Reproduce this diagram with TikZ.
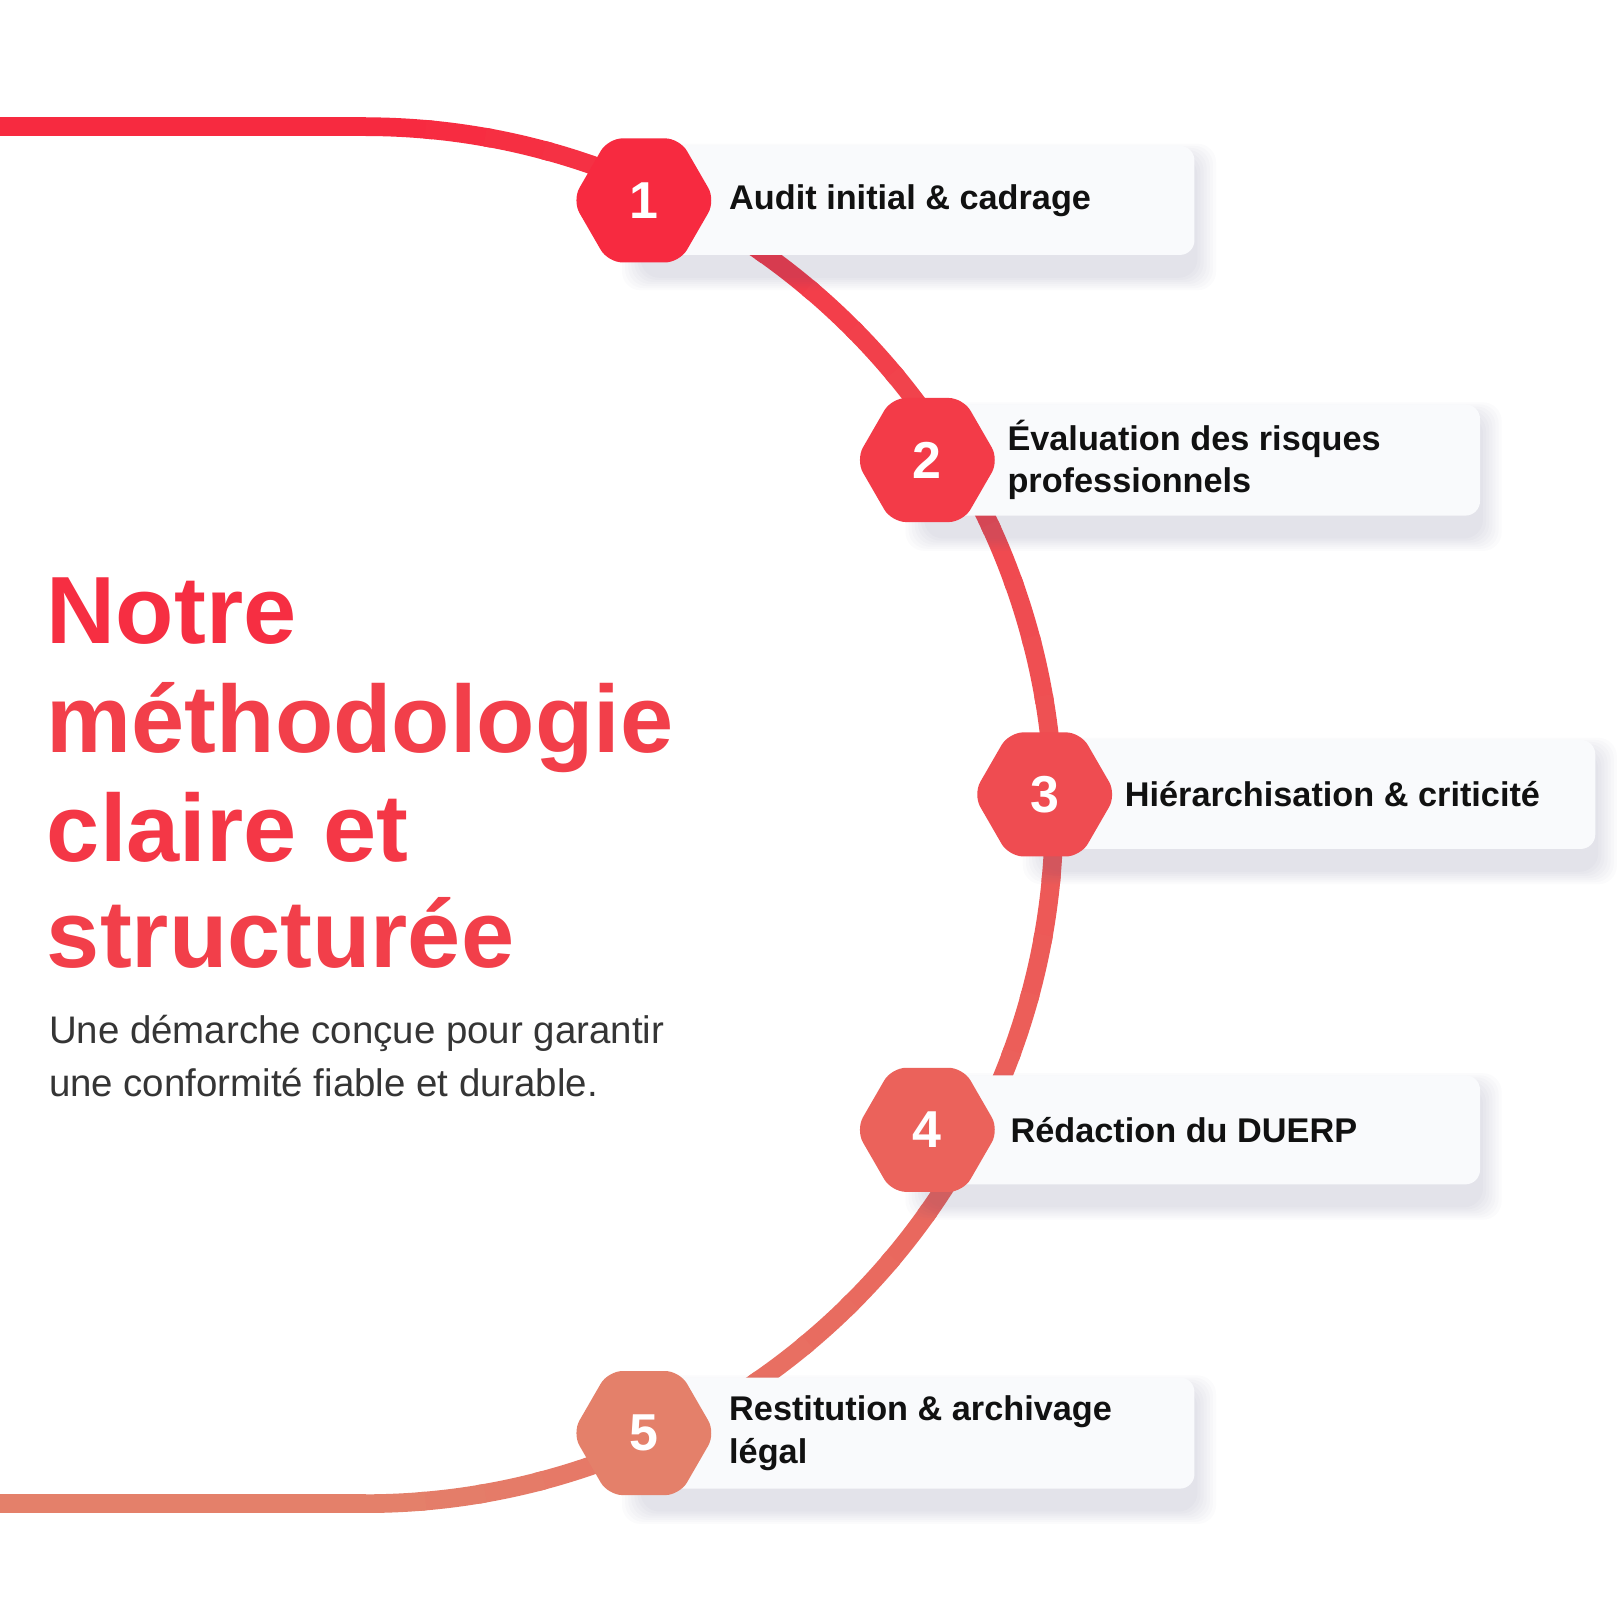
\documentclass[tikz,border=0pt]{standalone}
\usepackage{fontspec}
\setmainfont{Liberation Sans}
\usetikzlibrary{shapes.geometric,calc}
\definecolor{cA}{HTML}{F72A40}
\definecolor{cB}{HTML}{E4806A}
\definecolor{ink}{HTML}{111111}
\definecolor{cardbg}{HTML}{F9FAFC}
\definecolor{shad}{HTML}{5A5F8A}
\tikzset{
 hexa/.style={regular polygon,regular polygon sides=6,shape border rotate=0,minimum size=138pt,rounded corners=14pt,inner sep=0pt,text=white,font=\fontsize{50}{50}\selectfont\bfseries},
 steplabel/.style={anchor=west,align=left,text=ink,font=\fontsize{33}{41}\selectfont\bfseries,inner sep=0pt},
 cardbox/.style={rounded corners=14pt,fill=cardbg,draw=none,anchor=west,inner sep=0pt},
}
\newcommand{\mycard}[5]{%
 \foreach \i in {1,...,7}{\fill[shad,opacity=0.025,rounded corners=18pt] ($(#2,#3)+(-\i*3,-#5/2-20-\i*2)$) rectangle ($(#2+#4,#3)+(\i*3,#5/2-12+\i*2)$);}
 \node[cardbox,minimum width=#4 pt,minimum height=#5 pt] (#1) at (#2,#3) {};}
\begin{document}
\begin{tikzpicture}[x=1pt,y=1pt]
\useasboundingbox (0,60) rectangle (1560,1620);
\fill[white] (0,60) rectangle (1560,1620);
% path
\coordinate (ctr) at (352,835);
\coordinate (topL) at (0,1498);
\coordinate (topR) at (352,1498);
\coordinate (botL) at (0,172);
\coordinate (botR) at (352,172);
\draw[cA,line width=18pt] (topL) -- (topR);
\draw[cB,line width=18pt] (botL) -- (botR);
\foreach \k in {0,...,35}{
 \pgfmathsetmacro{\aa}{90-5*\k}
 \pgfmathsetmacro{\bb}{90-5*(\k+1)-0.6}
 \pgfmathsetmacro{\pc}{\k*100/35}
 \draw[cB!\pc!cA,line width=18pt] ($(ctr)+(\aa:663)$) arc[start angle=\aa,end angle=\bb,radius=663];
}
% cards
\mycard{c1}{620}{1427}{530}{105}
\mycard{c2}{893}{1177}{532}{107}
\mycard{c3}{1006}{855}{530}{105}
\mycard{c4}{893}{532}{532}{105}
\mycard{c5}{620}{240}{530}{107}
% hexes
\node[hexa,fill=cA] (h1) at (620,1427) {1};
\node[hexa,fill=cA!80!cB] (h2) at (893,1177) {2};
\node[hexa,fill=cA!60!cB] (h3) at (1006,855) {3};
\node[hexa,fill=cA!35!cB] (h4) at (893,532) {4};
\node[hexa,fill=cB] (h5) at (620,240) {5};
% labels
\node[steplabel] (t1) at (702,1427) {Audit initial \& cadrage};
\node[steplabel] (t2) at (970,1177) {Évaluation des risques\\professionnels};
\node[steplabel] (t3) at (1083,855) {Hiérarchisation \& criticité};
\node[steplabel] (t4) at (973,532) {Rédaction du DUERP};
\node[steplabel] (t5) at (702,240) {Restitution \& archivage\\légal};
% title
\node[anchor=base west,inner sep=0pt,text=cA!95!cB,font=\fontsize{92}{100}\selectfont\bfseries] (ti1) at (45,1000) {Notre};
\node[anchor=base west,inner sep=0pt,text=cA!75!cB,font=\fontsize{92}{100}\selectfont\bfseries] (ti2) at (45,895) {méthodologie};
\node[anchor=base west,inner sep=0pt,text=cA!85!cB,font=\fontsize{92}{100}\selectfont\bfseries] (ti3) at (45,790) {claire et};
\node[anchor=base west,inner sep=0pt,text=cA!75!cB,font=\fontsize{92}{100}\selectfont\bfseries] (ti4) at (45,688) {structurée};
\node[anchor=base west,inner sep=0pt,text=ink!85,font=\fontsize{37}{50}\selectfont] (s1) at (47,615) {Une démarche conçue pour garantir};
\node[anchor=base west,inner sep=0pt,text=ink!85,font=\fontsize{37}{50}\selectfont] (s2) at (47,564) {une conformité fiable et durable.};
\end{tikzpicture}
\end{document}
